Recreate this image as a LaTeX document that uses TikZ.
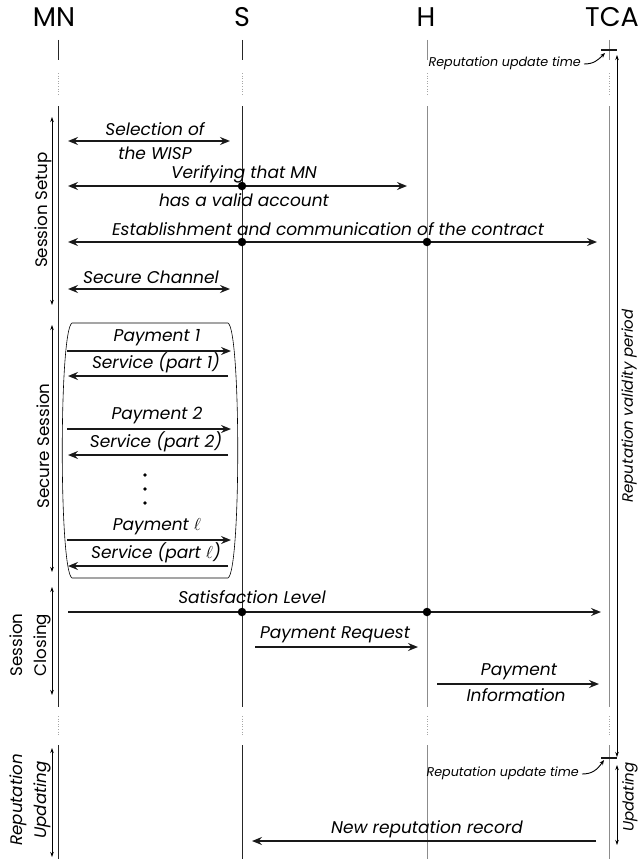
\documentclass[tikz,border=0pt]{standalone}
\usepackage{fontspec}
\setmainfont{Poppins}
\usetikzlibrary{arrows.meta}
\newcommand{\msgfont}{\fontsize{17}{20}\selectfont\itshape}
\newcommand{\notefont}{\fontsize{12.7}{15}\selectfont\itshape}
\tikzset{
  life/.style={line width=1pt, black!45},
  lifedark/.style={line width=1pt, black!85},
  gap/.style={line width=0.6pt, black!35, dotted},
  msg/.style={line width=1.8pt, black!90, -{Stealth[length=10pt,width=8pt,inset=3.5pt]}},
  twomsg/.style={msg, {Stealth[length=10pt,width=8pt,inset=3.5pt]}-{Stealth[length=10pt,width=8pt,inset=3.5pt]}},
  phase/.style={line width=0.7pt, {Stealth[length=5pt,width=3.5pt]}-{Stealth[length=5pt,width=3.5pt]}},
  lbl/.style={font=\msgfont, inner sep=0pt},
  note/.style={font=\notefont, inner sep=0pt},
  hdr/.style={font=\fontsize{27}{30}\selectfont, inner sep=0pt, anchor=base},
  phaselbl/.style={font=\fontsize{16.7}{24}\selectfont, inner sep=0pt, rotate=90, align=center},
  hit/.style={circle, fill=black, inner sep=0pt, minimum size=8.5pt},
  tick/.style={line width=1.6pt, black!90}
}
\begin{document}
\begin{tikzpicture}[x=1pt,y=-1pt]
  \useasboundingbox (0,0) rectangle (639,859);
  % heads
  \node[hdr] (mn) at (54,27) {MN};
  \node[hdr] (s) at (242,27) {S};
  \node[hdr] (h) at (426,27) {H};
  \node[hdr] (tca) at (612,27) {TCA};
  % lifelines
  \foreach \x/\sty in {58/lifedark, 242/lifedark, 427/life, 609/life} {
    \draw[\sty] (\x,40) -- (\x,60);
    \draw[gap] (\x,73) -- (\x,94);
    \draw[\sty] (\x,106) -- (\x,707);
    \draw[gap] (\x,716) -- (\x,736);
    \draw[\sty] (\x,745) -- (\x,859);
  }
  % phases
  \draw[phase] (52,117) -- (52,305);\draw[phase] (52,325) -- (52,572);
  \draw[phase] (52,587) -- (52,695);\draw[phase] (52,748) -- (52,857);
  \node[phaselbl] (setup) at (43,210) {Session Setup};
  \node[phaselbl] (secure) at (43,446) {Secure Session};
  \node[phaselbl] (closing) at (30,645) {Session\\Closing};
  \node[phaselbl, font=\fontsize{16.7}{24}\selectfont\itshape] (updating) at (30,800) {Reputation\\Updating};

  % session setup
  \coordinate (sel-a) at (68,141);\coordinate (sel-b) at (230,141);
  \draw[twomsg] (sel-a) -- (sel-b);
  \node[lbl] (sel1) at (155,129) {Selection of};\node[lbl] (sel2) at (155,153) {the WISP};
  \coordinate (ver-a) at (68,186);\coordinate (ver-b) at (407,186);
  \draw[twomsg] (ver-a) -- (ver-b);
  \node[lbl] (ver1) at (244,174) {Verifying that MN};\node[lbl] (ver2) at (244,200) {has a valid account};
  \coordinate (est-a) at (68,242);\coordinate (est-b) at (597,242);
  \draw[twomsg] (est-a) -- (est-b);
  \node[lbl] (est) at (328,229) {Establishment and communication of the contract};
  \coordinate (chn-a) at (68,289);\coordinate (chn-b) at (230,289);
  \draw[twomsg] (chn-a) -- (chn-b);
  \node[lbl] (chn) at (151,277) {Secure Channel};
  \node[hit] (d1) at (242,186) {};\node[hit] (d2) at (242,242) {};\node[hit] (d3) at (427,242) {};

  % secure session
  \draw[line width=0.6pt] (72,323) -- (228,323) .. controls (241,330) and (241,571) .. (228,578)
    -- (72,578) .. controls (59,571) and (59,330) .. (72,323) -- cycle;
  \foreach \n/\ypay/\yser/\k in {1/351/376/1, 2/429/455/2, 3/540/566/$\ell$} {
    \coordinate (pay\n-a) at (67,\ypay);\coordinate (pay\n-b) at (231,\ypay);
    \draw[msg] (pay\n-a) -- (pay\n-b);
    \node[lbl] (pay\n) at (157,\ypay-13) {Payment \k};
    \coordinate (ser\n-a) at (228,\yser);\coordinate (ser\n-b) at (68,\yser);
    \draw[msg] (ser\n-a) -- (ser\n-b);
    \node[lbl] (ser\n) at (156,\yser-13) {Service (part \k)};
  }
  \foreach \y in {475,489,503} \fill (145,\y) circle (1.8pt);

  % session closing
  \coordinate (sat-a) at (68,612);\coordinate (sat-b) at (601,612);
  \draw[msg] (sat-a) -- (sat-b);
  \node[lbl] (sat) at (252,597) {Satisfaction Level};
  \node[hit] (d4) at (242,612) {};\node[hit] (d5) at (427,612) {};
  \coordinate (req-a) at (255,647);\coordinate (req-b) at (418,647);
  \draw[msg] (req-a) -- (req-b);
  \node[lbl] (req) at (335,635) {Payment Request};
  \coordinate (inf-a) at (437,684);\coordinate (inf-b) at (599,684);
  \draw[msg] (inf-a) -- (inf-b);
  \node[lbl] (inf1) at (519,672) {Payment};\node[lbl] (inf2) at (516,695) {Information};

  % reputation updating
  \coordinate (rec-a) at (596,841);\coordinate (rec-b) at (252,841);
  \draw[msg] (rec-a) -- (rec-b);
  \node[lbl] (rec) at (427,829) {New reputation record};

  % TCA timing
  \draw[tick] (601,50) -- (617,50);\draw[tick] (601,758) -- (617,758);
  \draw[phase] (617,55) -- (617,757);
  \node[note, rotate=90, font=\fontsize{15}{18}\selectfont\itshape] (valid) at (629,406) {Reputation validity period};
  \draw[phase] (617,765) -- (617,845);
  \node[note, rotate=90, font=\fontsize{15}{18}\selectfont\itshape] (upd) at (630,797) {Updating};
  \node[note, anchor=east] (rut1) at (581,63) {Reputation update time};
  \node[note, anchor=east] (rut2) at (579,773) {Reputation update time};
  \draw[line width=0.9pt, -{Stealth[length=5pt,width=4pt]}] (rut1.east) ++(3,1) .. controls (594,64) and (598,60) .. (605,53);
  \draw[line width=0.9pt, -{Stealth[length=5pt,width=4pt]}] (rut2.east) ++(3,1) .. controls (592,774) and (597,770) .. (604,760);
\end{tikzpicture}
\end{document}
